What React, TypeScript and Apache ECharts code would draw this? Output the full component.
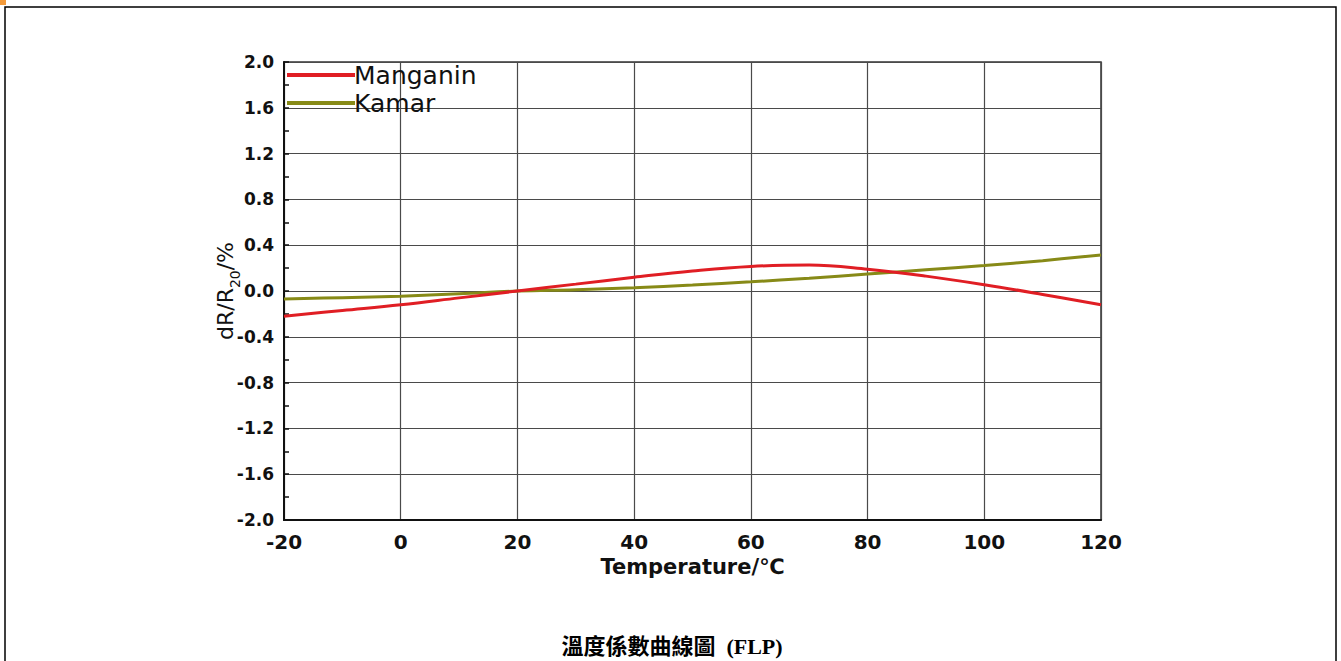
import React, { useEffect, useRef } from "react";
import * as echarts from "echarts";

const temps = [-20, -10, 0, 10, 20, 30, 40, 50, 60, 70, 80, 90, 100, 110, 120];
const manganin = [-0.22, -0.17, -0.12, -0.06, 0, 0.06, 0.12, 0.175, 0.215, 0.226, 0.19, 0.13, 0.055, -0.03, -0.12];
const kamar = [-0.07, -0.058, -0.045, -0.025, 0, 0.012, 0.028, 0.052, 0.08, 0.112, 0.148, 0.185, 0.222, 0.265, 0.315];
const seriesNames = ["Manganin", "Kamar"];
const xAxisTitle = "Temperature/\u2103";
const caption = "溫度係數曲線圖  (FLP)";

export default function App() {
  const ref = useRef<HTMLDivElement>(null);
  useEffect(() => {
    if (!ref.current) return;
    const chart = echarts.init(ref.current, null, { renderer: "svg" });
    const pairs = (ys: number[]) => temps.map((t, i) => [t, ys[i]]);
    chart.setOption({
      animation: false,
      backgroundColor: "#ffffff",
      grid: {
        left: 284,
        top: 62,
        right: 240,
        bottom: 141,
        show: true,
        borderColor: "#333",
        borderWidth: 1.5,
        backgroundColor: "transparent",
      },
      legend: {
        show: true,
        orient: "vertical",
        left: 282,
        top: 56,
        itemWidth: 68,
        itemHeight: 4,
        itemGap: 0,
        icon: "rect",
        data: seriesNames,
        textStyle: {
          fontFamily: "DejaVu Sans",
          fontSize: 25,
          color: "#111",
          lineHeight: 28,
          padding: [0, 0, 0, -6],
        },
      },
      xAxis: {
        type: "value",
        min: -20,
        max: 120,
        interval: 20,
        name: xAxisTitle,
        nameLocation: "middle",
        nameGap: 36,
        nameTextStyle: {
          fontFamily: "DejaVu Sans",
          fontWeight: "bold",
          fontSize: 21,
          color: "#111",
        },
        axisLine: { show: true, onZero: false, lineStyle: { color: "#111", width: 2 } },
        axisTick: { show: false },
        axisLabel: {
          margin: 12,
          fontFamily: "DejaVu Sans",
          fontWeight: "bold",
          fontSize: 20,
          color: "#111",
        },
        splitLine: { show: true, lineStyle: { color: "#4a4a4a", width: 1.2 } },
      },
      yAxis: [
        {
          type: "value",
          min: -2,
          max: 2,
          interval: 0.4,
          name: "{a|dR/R}{s|20}{a|/%}",
          nameLocation: "middle",
          nameRotate: 90,
          nameGap: 42,
          nameMoveOverlap: false,
          nameTextStyle: {
            color: "#111",
            rich: {
              a: { fontFamily: "DejaVu Sans", fontSize: 22, color: "#111", verticalAlign: "bottom", padding: [0, 0, 6, 0] },
              s: { fontFamily: "DejaVu Sans", fontSize: 14, color: "#111", verticalAlign: "bottom" },
            },
          },
          axisLine: { show: true, onZero: false, lineStyle: { color: "#111", width: 2 } },
          axisTick: { show: false },
          axisLabel: {
            margin: 10,
            fontFamily: "DejaVu Sans",
            fontWeight: "bold",
            fontSize: 17,
            color: "#111",
            formatter: (v: number) => (Math.abs(v) < 1e-9 ? "0.0" : v.toFixed(1)),
          },
          splitLine: { show: true, lineStyle: { color: "#4a4a4a", width: 1.2 } },
        },
        {
          type: "value",
          position: "left",
          min: -2,
          max: 2,
          interval: 0.2,
          axisLine: { show: false, onZero: false },
          axisTick: { show: true, inside: true, length: 5, lineStyle: { color: "#111", width: 1.5 } },
          axisLabel: { show: false },
          splitLine: { show: false },
        },
      ],
      series: [
        {
          name: seriesNames[0],
          type: "line",
          data: pairs(manganin),
          smooth: 0.4,
          showSymbol: false,
          symbol: "none",
          lineStyle: { color: "#e01e24", width: 3 },
          itemStyle: { color: "#e01e24" },
          z: 3,
        },
        {
          name: seriesNames[1],
          type: "line",
          data: pairs(kamar),
          smooth: 0.4,
          showSymbol: false,
          symbol: "none",
          lineStyle: { color: "#878a17", width: 3 },
          itemStyle: { color: "#878a17" },
          z: 2,
        },
      ],
      graphic: [
        {
          type: "rect",
          shape: { x: 5, y: 7, width: 1331, height: 700 },
          style: { fill: "none", stroke: "#000", lineWidth: 1.5 },
          silent: true,
        },
        {
          type: "rect",
          shape: { x: 0, y: 0, width: 6, height: 5 },
          style: { fill: "#f39a3a" },
          silent: true,
        },
        {
          type: "text",
          x: 672,
          y: 646,
          style: {
            text: caption,
            fontFamily: "'Liberation Serif', 'Noto Sans CJK TC'",
            fontWeight: "bold",
            fontSize: 22,
            fill: "#000",
            align: "center",
            verticalAlign: "middle",
          },
          silent: true,
        },
      ],
    });
    return () => chart.dispose();
  }, []);
  return (
    <div
      ref={ref}
      style={{ position: "absolute", left: 0, top: 0, width: 1341, height: 661, background: "#fff" }}
    />
  );
}
